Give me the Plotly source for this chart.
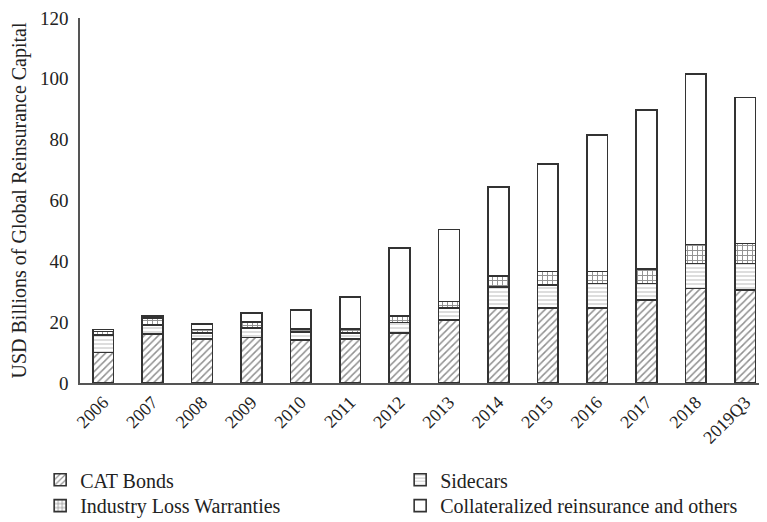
import plotly.graph_objects as go

# Global alternative reinsurance capital (USD billions)
years = ["2006", "2007", "2008", "2009", "2010", "2011", "2012",
         "2013", "2014", "2015", "2016", "2017", "2018", "2019Q3"]
cat_bonds = [10.0, 16.2, 14.5, 14.9, 14.2, 14.5, 16.4, 20.7, 24.6, 24.6, 24.6, 27.3, 31.1, 30.6]
sidecars = [5.8, 2.9, 1.9, 3.1, 2.5, 2.0, 3.5, 4.0, 6.9, 7.7, 8.1, 5.4, 8.2, 8.7]
ilw = [1.1, 2.3, 1.2, 2.1, 1.0, 1.2, 2.2, 2.1, 3.6, 4.3, 3.9, 4.8, 6.3, 6.6]
others = [0.7, 0.6, 1.8, 2.9, 6.3, 10.6, 22.2, 23.7, 29.4, 35.5, 45.0, 52.2, 56.0, 48.0]

FONT = "Liberation Serif"
EDGE = "#333333"


def make_bar(name, values, shape, fg, size, solidity, legend):
    pattern = dict(shape=shape, fgcolor=fg, bgcolor="white", size=size,
                   solidity=solidity, fillmode="overlay")
    return go.Bar(
        name=name, x=years, y=values, legend=legend,
        marker=dict(color="white", pattern=pattern,
                    line=dict(color=EDGE, width=1.6)),
    )


fig = go.Figure([
    make_bar("CAT Bonds", cat_bonds, "/", "#222222", 5, 0.3, "legend"),
    make_bar("Sidecars", sidecars, "-", "#777777", 4, 0.25, "legend"),
    make_bar("Industry Loss Warranties", ilw, "+", "#222222", 5, 0.35, "legend2"),
    make_bar("Collateralized reinsurance and others", others, "", EDGE, 5, 0.3, "legend2"),
])

legend_common = dict(
    orientation="h", x=-0.058, xanchor="left", yanchor="middle",
    entrywidth=315, entrywidthmode="pixels",
    font=dict(family=FONT, size=20, color="#222222"),
    traceorder="normal", bgcolor="rgba(0,0,0,0)",
)

# the page body adds an 8px margin, so the figure is 8px smaller than the window
fig.update_layout(
    barmode="stack",
    bargap=0.58,
    width=759, height=514,
    margin=dict(l=72, r=0, t=10, b=139, autoexpand=False),
    plot_bgcolor="white",
    paper_bgcolor="white",
    font=dict(family=FONT, size=18, color="#222222"),
    legend=dict(legend_common, y=-0.265),
    legend2=dict(legend_common, y=-0.336),
)

fig.update_xaxes(
    range=[-0.47, 13.44], showline=True, linecolor="#555555", linewidth=1.5,
    tickangle=-45, tickfont=dict(family=FONT, size=18), ticks="",
    automargin=False,
)
fig.update_yaxes(
    range=[0, 120], dtick=20, showline=True, linecolor="#555555", linewidth=1.5,
    showgrid=False, zeroline=False, ticks="", automargin=False,
    ticklabelstandoff=6, ticklabeloverflow="allow",
    tickfont=dict(family=FONT, size=19),
    title=dict(text="USD Billions of Global Reinsurance Capital",
               font=dict(family=FONT, size=20), standoff=10),
)

fig.write_html("out.html")
